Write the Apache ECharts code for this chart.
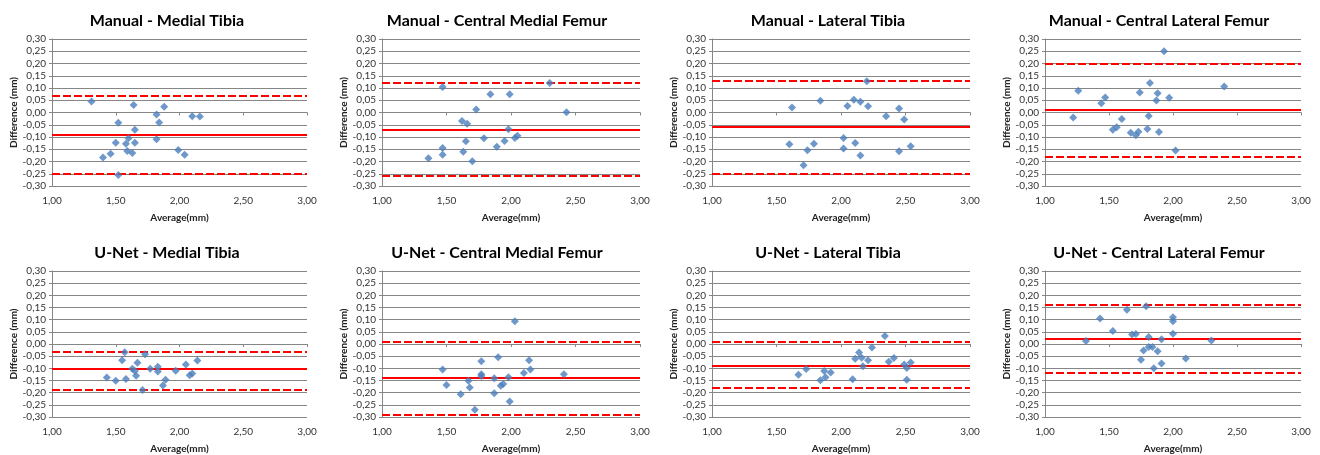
<!DOCTYPE html>
<html>
<head>
<meta charset="utf-8">
<script src="https://cdn.jsdelivr.net/npm/echarts@6/dist/echarts.min.js"></script>
<style>
    html, body { margin: 0; padding: 0; background: #fff; }
    #chart { width: 1320px; height: 455px; }
</style>
</head>
<body>
<div id="chart"></div>
<script>
// Bland-Altman: difference vs average thickness (mm)
var titles = [
    'Manual - Medial Tibia', 'Manual - Central Medial Femur', 'Manual - Lateral Tibia', 'Manual - Central Lateral Femur',
    'U-Net - Medial Tibia', 'U-Net - Central Medial Femur', 'U-Net - Lateral Tibia', 'U-Net - Central Lateral Femur'
];

var manualMTAvg  = [1.31, 1.40, 1.46, 1.50, 1.52, 1.52, 1.58, 1.60, 1.59, 1.63, 1.64, 1.65, 1.65, 1.82, 1.82, 1.84, 1.88, 1.99, 2.04, 2.10, 2.16];
var manualMTDiff = [0.045, -0.184, -0.168, -0.123, -0.042, -0.255, -0.128, -0.105, -0.157, -0.165, 0.031, -0.070, -0.123, -0.008, -0.109, -0.041, 0.023, -0.153, -0.172, -0.015, -0.016];

var manualCMFAvg  = [1.47, 1.36, 1.47, 1.47, 1.62, 1.66, 1.65, 1.63, 1.70, 1.73, 1.79, 1.84, 1.89, 1.95, 1.98, 1.99, 2.03, 2.05, 2.30, 2.43];
var manualCMFDiff = [0.104, -0.187, -0.145, -0.172, -0.035, -0.046, -0.117, -0.160, -0.199, 0.012, -0.105, 0.075, -0.140, -0.116, -0.068, 0.075, -0.104, -0.095, 0.120, 0.001];

var manualLTAvg  = [1.62, 1.60, 1.74, 1.71, 1.79, 1.84, 2.02, 2.02, 2.05, 2.10, 2.11, 2.15, 2.15, 2.20, 2.21, 2.35, 2.45, 2.45, 2.49, 2.54];
var manualLTDiff = [0.020, -0.130, -0.154, -0.215, -0.128, 0.048, -0.104, -0.147, 0.027, 0.052, -0.124, 0.044, -0.175, 0.128, 0.026, -0.015, 0.016, -0.158, -0.029, -0.138];

var manualCLFAvg  = [1.22, 1.26, 1.44, 1.47, 1.53, 1.56, 1.60, 1.67, 1.71, 1.73, 1.74, 1.80, 1.81, 1.82, 1.87, 1.88, 1.89, 1.93, 1.97, 2.02, 2.40];
var manualCLFDiff = [-0.020, 0.089, 0.038, 0.061, -0.070, -0.060, -0.027, -0.083, -0.093, -0.079, 0.082, -0.067, -0.014, 0.120, 0.049, 0.079, -0.080, 0.250, 0.060, -0.155, 0.106];

var unetMTAvg  = [1.43, 1.50, 1.55, 1.57, 1.58, 1.63, 1.65, 1.66, 1.67, 1.71, 1.73, 1.77, 1.83, 1.83, 1.87, 1.89, 1.97, 2.05, 2.08, 2.10, 2.14];
var unetMTDiff = [-0.138, -0.151, -0.067, -0.034, -0.144, -0.102, -0.111, -0.130, -0.077, -0.189, -0.042, -0.102, -0.094, -0.113, -0.171, -0.147, -0.110, -0.084, -0.128, -0.121, -0.068];

var unetCMFAvg  = [1.47, 1.50, 1.61, 1.67, 1.68, 1.72, 1.77, 1.77, 1.77, 1.87, 1.87, 1.90, 1.92, 1.94, 1.98, 1.99, 2.03, 2.10, 2.14, 2.15, 2.41];
var unetCMFDiff = [-0.105, -0.168, -0.206, -0.151, -0.179, -0.270, -0.071, -0.124, -0.132, -0.202, -0.141, -0.054, -0.172, -0.164, -0.137, -0.236, 0.094, -0.119, -0.067, -0.105, -0.124];

var unetLTAvg  = [1.67, 1.73, 1.84, 1.87, 1.88, 1.92, 2.09, 2.11, 2.14, 2.16, 2.17, 2.21, 2.24, 2.34, 2.37, 2.41, 2.49, 2.51, 2.51, 2.54];
var unetLTDiff = [-0.126, -0.103, -0.149, -0.111, -0.137, -0.117, -0.145, -0.061, -0.035, -0.057, -0.091, -0.067, -0.014, 0.033, -0.073, -0.058, -0.084, -0.147, -0.099, -0.076];

var unetCLFAvg  = [1.32, 1.43, 1.53, 1.64, 1.68, 1.71, 1.75, 1.77, 1.79, 1.81, 1.81, 1.84, 1.85, 1.88, 1.91, 1.91, 2.00, 2.00, 2.00, 2.10, 2.30];
var unetCLFDiff = [0.012, 0.105, 0.053, 0.141, 0.039, 0.041, -0.065, -0.027, 0.155, 0.029, -0.012, -0.012, -0.100, -0.030, 0.020, -0.080, 0.042, 0.094, 0.110, -0.060, 0.014];

// mean difference and limits of agreement per panel
var meanDiff   = [-0.090, -0.070, -0.058, 0.007, -0.105, -0.140, -0.090, 0.018];
var upperLimit = [0.071, 0.120, 0.131, 0.199, -0.033, 0.008, 0.009, 0.162];
var lowerLimit = [-0.250, -0.262, -0.248, -0.185, -0.190, -0.288, -0.185, -0.118];

var xTicks = { min: 1, max: 3, interval: 0.5 };
var yTicks = { min: -0.3, max: 0.3, interval: 0.05 };

var avgs  = [manualMTAvg, manualCMFAvg, manualLTAvg, manualCLFAvg, unetMTAvg, unetCMFAvg, unetLTAvg, unetCLFAvg];
var diffs = [manualMTDiff, manualCMFDiff, manualLTDiff, manualCLFDiff, unetMTDiff, unetCMFDiff, unetLTDiff, unetCLFDiff];

var FONT = 'Lato';
var colLeft  = [52, 382, 712, 1045];
var colWidth = [255, 258, 258, 256];
var colTitle = [162, 492, 823, 1154];
var rowTop   = [39, 271];
var rowTitle = [8, 240];
var plotH = 147;

function fmt(v) {
    if (Math.abs(v) < 1e-9) v = 0;
    return v.toFixed(2).replace('.', ',');
}

var myChart = echarts.init(document.getElementById('chart'));

var option = { animation: false, title: [], grid: [], xAxis: [], yAxis: [], series: [] };

for (var i = 0; i < 8; i++) {
    var r = Math.floor(i / 4), c = i % 4;
    option.title.push({
        text: titles[i],
        left: colTitle[c],
        top: rowTitle[r],
        textAlign: 'center',
        textStyle: { fontFamily: FONT, fontSize: 16, fontWeight: 'bold', color: '#000' }
    });
    option.grid.push({ left: colLeft[c], top: rowTop[r], width: colWidth[c], height: plotH });

    // labelled axis at the bottom
    option.xAxis.push({
        type: 'value', gridIndex: i, min: xTicks.min, max: xTicks.max, interval: xTicks.interval,
        name: 'Average(mm)', nameLocation: 'middle', nameGap: 27,
        nameTextStyle: { fontFamily: FONT, fontSize: 10, fontWeight: 'bold', color: '#222' },
        axisLine: { show: false, onZero: false },
        axisTick: { show: false },
        axisLabel: { formatter: fmt, fontFamily: FONT, fontSize: 10, color: '#333', margin: 10 },
        splitLine: { show: false }
    });
    // axis line crossing at zero
    option.xAxis.push({
        type: 'value', gridIndex: i, min: xTicks.min, max: xTicks.max, interval: xTicks.interval,
        position: 'bottom',
        axisLine: { show: true, onZero: true, lineStyle: { color: '#868686', width: 1 } },
        axisTick: { show: true, length: 3, lineStyle: { color: '#868686' } },
        axisLabel: { show: false },
        splitLine: { show: false }
    });
    option.yAxis.push({
        type: 'value', gridIndex: i, min: yTicks.min, max: yTicks.max, interval: yTicks.interval,
        name: 'Difference (mm)', nameLocation: 'middle', nameGap: 32,
        nameTextStyle: { fontFamily: FONT, fontSize: 10, fontWeight: 'bold', color: '#222' },
        axisLine: { show: true, lineStyle: { color: '#868686', width: 1 } },
        axisTick: { show: true, length: 3, lineStyle: { color: '#868686' } },
        axisLabel: { formatter: fmt, fontFamily: FONT, fontSize: 10, color: '#333', margin: 6 },
        splitLine: { show: true, lineStyle: { color: '#868686', width: 1 } }
    });

    var pts = [];
    for (var k = 0; k < avgs[i].length; k++) {
        pts.push([avgs[i][k], diffs[i][k]]);
    }
    option.series.push({
        type: 'scatter',
        xAxisIndex: 2 * i,
        yAxisIndex: i,
        data: pts,
        symbol: 'diamond',
        symbolSize: 8,
        itemStyle: { color: '#4a7ebb' },
        z: 3,
        markLine: {
            silent: true,
            symbol: ['none', 'none'],
            label: { show: false },
            z: 2,
            data: [
                { yAxis: meanDiff[i], lineStyle: { color: '#ff0000', width: 2, type: 'solid' } },
                { yAxis: upperLimit[i], lineStyle: { color: '#ff0000', width: 2, type: [8, 3] } },
                { yAxis: lowerLimit[i], lineStyle: { color: '#ff0000', width: 2, type: [8, 3] } }
            ]
        }
    });
}

myChart.setOption(option);
</script>
</body>
</html>
